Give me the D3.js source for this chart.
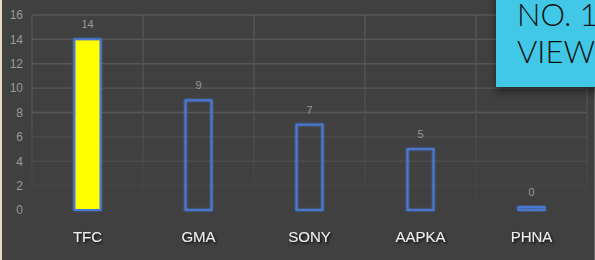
<!DOCTYPE html>
<html>
<head>
<meta charset="utf-8">
<script src="https://cdn.jsdelivr.net/npm/d3@7"></script>
<style>
  html, body { margin: 0; padding: 0; background: #404040; }
  svg { display: block; }
</style>
</head>
<body>
<div class="chart"></div>
<script>
// chart values
var categories = ['TFC', 'GMA', 'SONY', 'AAPKA', 'PHNA'];
var views = [14, 9, 7, 5, 0];
var yTicks = [0, 2, 4, 6, 8, 10, 12, 14, 16];
var highlight = 'TFC';
var boxLines = ['NO. 1', 'VIEW'];

var cfg = {
    w: 595,
    h: 260,
    left: 32,
    right: 587,
    top: 15,
    bottom: 210,
    bg: '#404040',
    grid: '#555555',
    outline: '#4a78d0',
    fill: '#ffff00',
    tickColor: '#9a9a9a',
    labelColor: '#eeeeee',
    boxColor: '#41c8e6'
};

var svg = d3.select('.chart')
    .append('svg')
    .attr('width', cfg.w)
    .attr('height', cfg.h);

var defs = svg.append('defs');

var glow = defs.append('filter').attr('id', 'glow')
    .attr('x', '-50%').attr('y', '-50%').attr('width', '200%').attr('height', '200%');
glow.append('feGaussianBlur').attr('in', 'SourceGraphic').attr('stdDeviation', 1.2).attr('result', 'b');
var gm = glow.append('feMerge');
gm.append('feMergeNode').attr('in', 'b');
gm.append('feMergeNode').attr('in', 'SourceGraphic');

var shadow = defs.append('filter').attr('id', 'shadow')
    .attr('x', '-20%').attr('y', '-20%').attr('width', '140%').attr('height', '160%');
shadow.append('feDropShadow').attr('dx', 0).attr('dy', 5).attr('stdDeviation', 4)
    .attr('flood-color', '#000').attr('flood-opacity', 0.45);

var textShadow = defs.append('filter').attr('id', 'tshadow');
textShadow.append('feDropShadow').attr('dx', 1.5).attr('dy', 1.5).attr('stdDeviation', 0.8)
    .attr('flood-color', '#000').attr('flood-opacity', 0.8);

var fade = defs.append('linearGradient').attr('id', 'fade')
    .attr('gradientUnits', 'userSpaceOnUse')
    .attr('x1', 0).attr('y1', cfg.top).attr('x2', 0).attr('y2', cfg.bottom);
fade.append('stop').attr('offset', '0%').attr('stop-color', '#585858');
fade.append('stop').attr('offset', '55%').attr('stop-color', '#505050');
fade.append('stop').attr('offset', '100%').attr('stop-color', cfg.bg);

svg.append('rect').attr('width', cfg.w).attr('height', cfg.h).attr('fill', cfg.bg);
svg.append('rect').attr('x', 0).attr('y', 0).attr('width', 2).attr('height', cfg.h).attr('fill', '#e6dcc2');
svg.append('rect').attr('x', cfg.w - 1).attr('y', 0).attr('width', 1).attr('height', cfg.h).attr('fill', '#6a6a6a');

var xScale = d3.scaleBand()
    .domain(categories)
    .range([cfg.left, cfg.right]);

var yScale = d3.scaleLinear()
    .domain([0, 16])
    .range([cfg.bottom, cfg.top]);

// horizontal grid
var hGrid = svg.append('g');
hGrid.selectAll('line')
    .data(yTicks.filter(function (d) { return d > 0; }))
    .enter()
    .append('line')
    .attr('x1', cfg.left)
    .attr('x2', cfg.right)
    .attr('y1', function (d) { return yScale(d); })
    .attr('y2', function (d) { return yScale(d); })
    .attr('stroke', function (d) { return d >= 8 ? '#575757' : (d >= 4 ? '#4c4c4c' : '#464646'); })
    .attr('stroke-width', 1.3);

// vertical grid at band edges
var edges = categories.map(function (c) { return xScale(c); });
edges.push(cfg.right);
svg.append('g').selectAll('line')
    .data(edges)
    .enter()
    .append('line')
    .attr('x1', function (d) { return d; })
    .attr('x2', function (d) { return d; })
    .attr('y1', cfg.top)
    .attr('y2', cfg.bottom)
    .attr('stroke', 'url(#fade)')
    .attr('stroke-width', 1.3);

// y axis labels
var yAxis = d3.axisLeft(yScale).tickValues(yTicks).tickSize(0).tickPadding(0);
var yG = svg.append('g')
    .attr('transform', 'translate(' + 23 + ',0)')
    .call(yAxis);
yG.select('.domain').remove();
yG.selectAll('text')
    .attr('fill', cfg.tickColor)
    .attr('font-family', 'Liberation Sans, Arial, sans-serif')
    .attr('font-size', 12);

// bars
var barW = 26;
svg.append('g').selectAll('rect')
    .data(views)
    .enter()
    .append('rect')
    .attr('x', function (d, i) { return xScale(categories[i]) + xScale.bandwidth() / 2 - barW / 2; })
    .attr('y', function (d) { return Math.min(yScale(d), cfg.bottom - 3); })
    .attr('width', barW)
    .attr('height', function (d) { return Math.max(cfg.bottom - yScale(d), 3); })
    .attr('fill', function (d, i) { return categories[i] === highlight ? cfg.fill : 'none'; })
    .attr('stroke', cfg.outline)
    .attr('stroke-width', 2)
    .attr('filter', 'url(#glow)');

// value labels
svg.append('g').selectAll('text')
    .data(views)
    .enter()
    .append('text')
    .attr('x', function (d, i) { return xScale(categories[i]) + xScale.bandwidth() / 2; })
    .attr('y', function (d) { return Math.min(yScale(d), cfg.bottom - 3) - 11; })
    .attr('text-anchor', 'middle')
    .attr('fill', cfg.tickColor)
    .attr('font-family', 'Liberation Sans, Arial, sans-serif')
    .attr('font-size', 11)
    .text(function (d) { return d; });

// category labels
var xAxis = d3.axisBottom(xScale).tickSize(0).tickPadding(0);
var xG = svg.append('g')
    .attr('transform', 'translate(0,' + 231 + ')')
    .call(xAxis);
xG.select('.domain').remove();
xG.selectAll('text')
    .attr('fill', cfg.labelColor)
    .attr('font-family', 'Liberation Sans, Arial, sans-serif')
    .attr('font-size', 15)
    .attr('filter', 'url(#tshadow)');

// overlay box
svg.append('rect')
    .attr('x', 496)
    .attr('y', -10)
    .attr('width', 110)
    .attr('height', 97)
    .attr('fill', cfg.boxColor)
    .attr('filter', 'url(#shadow)');

svg.append('g').selectAll('text')
    .data(boxLines)
    .enter()
    .append('text')
    .attr('x', 517)
    .attr('y', function (d, i) { return 26 + i * 37; })
    .attr('fill', '#111')
    .attr('font-family', 'Lato, sans-serif')
    .attr('font-weight', 300)
    .attr('font-size', 31)
    .text(function (d) { return d; });
</script>
</body>
</html>
